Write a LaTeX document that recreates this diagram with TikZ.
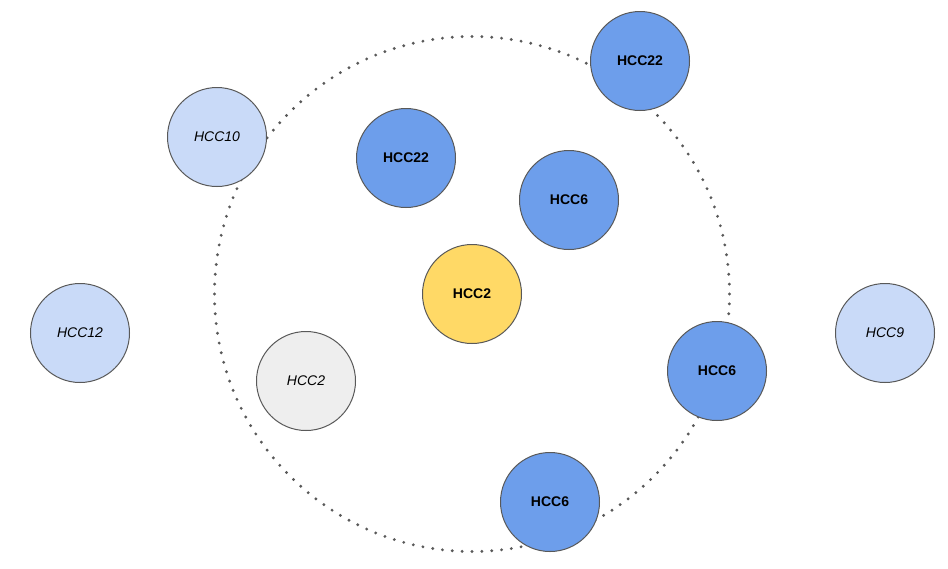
\documentclass[tikz,border=0pt]{standalone}
\usepackage{fontspec}
\setmainfont{Liberation Sans}
\definecolor{hccblue}{HTML}{6D9EEB}
\definecolor{hcclight}{HTML}{C9DAF8}
\definecolor{hccyellow}{HTML}{FFD966}
\definecolor{hccgrey}{HTML}{EEEEEE}
\definecolor{hccline}{HTML}{595959}
\begin{document}
\begin{tikzpicture}[x=0.75pt, y=-0.75pt,
    every node/.style={circle, draw=hccline, line width=0.75pt, minimum size=74.25pt, inner sep=0pt, font=\fontsize{10.5pt}{12pt}\selectfont},
    core/.style={fill=hccblue, font=\fontsize{10.5pt}{12pt}\selectfont\bfseries},
    outer/.style={fill=hcclight, font=\fontsize{10.5pt}{12pt}\selectfont\itshape}]
    \useasboundingbox (0,0) rectangle (948,568);

    % Anillo punteado
    \coordinate (ring) at (472,294);
    \draw[hccline, line width=2.4pt, line cap=round, dash pattern=on 0pt off 7.4pt] (ring) circle (257.5);

    % Nodos dentro del anillo
    \node[core] (a) at (640,61) {HCC22};
    \node[core] (b) at (406,158) {HCC22};
    \node[core] (c) at (569,200) {HCC6};
    \node[fill=hccyellow, font=\fontsize{10.5pt}{12pt}\selectfont\bfseries] (d) at (472,294) {HCC2};
    \node[core] (e) at (717,371) {HCC6};
    \node[core] (f) at (550,502) {HCC6};
    \node[fill=hccgrey, font=\fontsize{10.5pt}{12pt}\selectfont\itshape] (g) at (306,381) {HCC2};

    % Nodos de fuera
    \node[outer] (h) at (217,137) {HCC10};
    \node[outer] (i) at (80,333) {HCC12};
    \node[outer] (j) at (885,333) {HCC9};
\end{tikzpicture}
\end{document}
